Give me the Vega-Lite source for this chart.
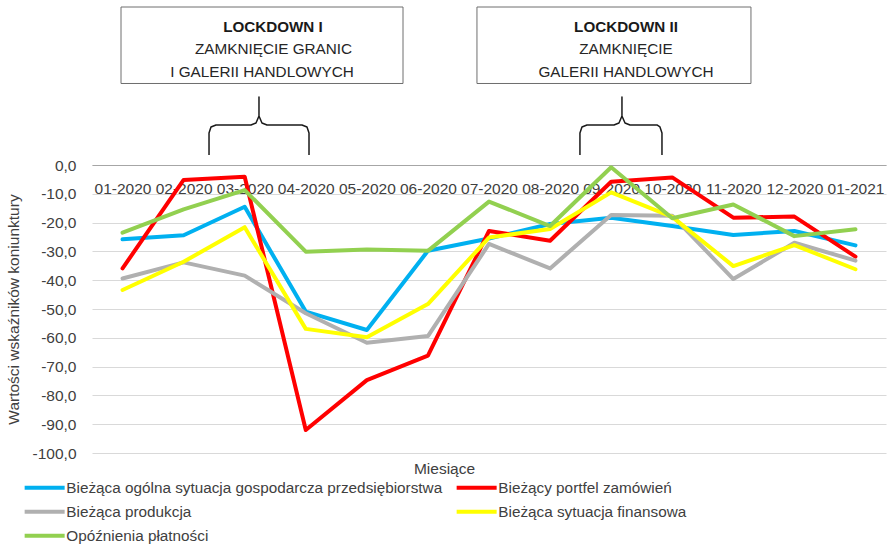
{
  "$schema": "https://vega.github.io/schema/vega-lite/v6.json",
  "width": 794,
  "height": 288,
  "autosize": {"type": "none"},
  "padding": {"left": 92, "top": 165, "right": 4, "bottom": 93},
  "config": {
    "locale": {"number": {"decimal": ",", "thousands": " ", "grouping": [3], "currency": ["", " zł"], "minus": "-"}},
    "font": "Liberation Sans",
    "view": {"stroke": null},
    "axisX": {
      "orient": "top",
      "labelFont": "Liberation Sans",
      "labelFontSize": 15.5,
      "labelColor": "#404040",
      "labelPadding": -23,
      "labelBaseline": "middle",
      "labelOverlap": false,
      "labelFlush": false,
      "labelBound": false,
      "ticks": false,
      "grid": false,
      "domainColor": "#a6a6a6",
      "domainWidth": 1,
      "titleFont": "Liberation Sans",
      "titleFontSize": 15.5,
      "titleFontWeight": "normal",
      "titleColor": "#404040",
      "titleX": 352,
      "titleY": 303,
      "titleBaseline": "middle"
    },
    "axisY": {
      "labelFont": "Liberation Sans",
      "labelFontSize": 15.5,
      "labelColor": "#404040",
      "labelPadding": 16,
      "labelOverlap": false,
      "labelFlush": false,
      "ticks": false,
      "domain": false,
      "grid": true,
      "gridColor": "#d9d9d9",
      "gridWidth": 1,
      "titleFont": "Liberation Sans",
      "titleFontSize": 15.5,
      "titleFontWeight": "normal",
      "titleColor": "#404040",
      "titlePadding": 11
    }
  },
  "datasets": {
    "series": [
      {"idx": 0, "month": "01-2020", "s": "Bieżąca ogólna sytuacja gospodarcza przedsiębiorstwa", "v": -25.8},
      {"idx": 1, "month": "02-2020", "s": "Bieżąca ogólna sytuacja gospodarcza przedsiębiorstwa", "v": -24.4},
      {"idx": 2, "month": "03-2020", "s": "Bieżąca ogólna sytuacja gospodarcza przedsiębiorstwa", "v": -14.5},
      {"idx": 3, "month": "04-2020", "s": "Bieżąca ogólna sytuacja gospodarcza przedsiębiorstwa", "v": -50.9},
      {"idx": 4, "month": "05-2020", "s": "Bieżąca ogólna sytuacja gospodarcza przedsiębiorstwa", "v": -57.3},
      {"idx": 5, "month": "06-2020", "s": "Bieżąca ogólna sytuacja gospodarcza przedsiębiorstwa", "v": -29.8},
      {"idx": 6, "month": "07-2020", "s": "Bieżąca ogólna sytuacja gospodarcza przedsiębiorstwa", "v": -25.5},
      {"idx": 7, "month": "08-2020", "s": "Bieżąca ogólna sytuacja gospodarcza przedsiębiorstwa", "v": -20.5},
      {"idx": 8, "month": "09-2020", "s": "Bieżąca ogólna sytuacja gospodarcza przedsiębiorstwa", "v": -18.3},
      {"idx": 9, "month": "10-2020", "s": "Bieżąca ogólna sytuacja gospodarcza przedsiębiorstwa", "v": -21.2},
      {"idx": 10, "month": "11-2020", "s": "Bieżąca ogólna sytuacja gospodarcza przedsiębiorstwa", "v": -24.3},
      {"idx": 11, "month": "12-2020", "s": "Bieżąca ogólna sytuacja gospodarcza przedsiębiorstwa", "v": -22.9},
      {"idx": 12, "month": "01-2021", "s": "Bieżąca ogólna sytuacja gospodarcza przedsiębiorstwa", "v": -27.9},
      {"idx": 0, "month": "01-2020", "s": "Bieżący portfel zamówień", "v": -35.9},
      {"idx": 1, "month": "02-2020", "s": "Bieżący portfel zamówień", "v": -5.2},
      {"idx": 2, "month": "03-2020", "s": "Bieżący portfel zamówień", "v": -4.1},
      {"idx": 3, "month": "04-2020", "s": "Bieżący portfel zamówień", "v": -92.0},
      {"idx": 4, "month": "05-2020", "s": "Bieżący portfel zamówień", "v": -74.7},
      {"idx": 5, "month": "06-2020", "s": "Bieżący portfel zamówień", "v": -66.2},
      {"idx": 6, "month": "07-2020", "s": "Bieżący portfel zamówień", "v": -22.9},
      {"idx": 7, "month": "08-2020", "s": "Bieżący portfel zamówień", "v": -26.3},
      {"idx": 8, "month": "09-2020", "s": "Bieżący portfel zamówień", "v": -5.8},
      {"idx": 9, "month": "10-2020", "s": "Bieżący portfel zamówień", "v": -4.3},
      {"idx": 10, "month": "11-2020", "s": "Bieżący portfel zamówień", "v": -18.3},
      {"idx": 11, "month": "12-2020", "s": "Bieżący portfel zamówień", "v": -17.9},
      {"idx": 12, "month": "01-2021", "s": "Bieżący portfel zamówień", "v": -31.8},
      {"idx": 0, "month": "01-2020", "s": "Bieżąca produkcja", "v": -39.4},
      {"idx": 1, "month": "02-2020", "s": "Bieżąca produkcja", "v": -33.8},
      {"idx": 2, "month": "03-2020", "s": "Bieżąca produkcja", "v": -38.4},
      {"idx": 3, "month": "04-2020", "s": "Bieżąca produkcja", "v": -51.5},
      {"idx": 4, "month": "05-2020", "s": "Bieżąca produkcja", "v": -61.7},
      {"idx": 5, "month": "06-2020", "s": "Bieżąca produkcja", "v": -59.4},
      {"idx": 6, "month": "07-2020", "s": "Bieżąca produkcja", "v": -27.4},
      {"idx": 7, "month": "08-2020", "s": "Bieżąca produkcja", "v": -35.9},
      {"idx": 8, "month": "09-2020", "s": "Bieżąca produkcja", "v": -17.4},
      {"idx": 9, "month": "10-2020", "s": "Bieżąca produkcja", "v": -17.6},
      {"idx": 10, "month": "11-2020", "s": "Bieżąca produkcja", "v": -39.6},
      {"idx": 11, "month": "12-2020", "s": "Bieżąca produkcja", "v": -27.0},
      {"idx": 12, "month": "01-2021", "s": "Bieżąca produkcja", "v": -33.2},
      {"idx": 0, "month": "01-2020", "s": "Bieżąca sytuacja finansowa", "v": -43.4},
      {"idx": 1, "month": "02-2020", "s": "Bieżąca sytuacja finansowa", "v": -33.6},
      {"idx": 2, "month": "03-2020", "s": "Bieżąca sytuacja finansowa", "v": -21.6},
      {"idx": 3, "month": "04-2020", "s": "Bieżąca sytuacja finansowa", "v": -56.9},
      {"idx": 4, "month": "05-2020", "s": "Bieżąca sytuacja finansowa", "v": -59.8},
      {"idx": 5, "month": "06-2020", "s": "Bieżąca sytuacja finansowa", "v": -48.3},
      {"idx": 6, "month": "07-2020", "s": "Bieżąca sytuacja finansowa", "v": -25.2},
      {"idx": 7, "month": "08-2020", "s": "Bieżąca sytuacja finansowa", "v": -22.2},
      {"idx": 8, "month": "09-2020", "s": "Bieżąca sytuacja finansowa", "v": -9.5},
      {"idx": 9, "month": "10-2020", "s": "Bieżąca sytuacja finansowa", "v": -18.0},
      {"idx": 10, "month": "11-2020", "s": "Bieżąca sytuacja finansowa", "v": -35.1},
      {"idx": 11, "month": "12-2020", "s": "Bieżąca sytuacja finansowa", "v": -27.8},
      {"idx": 12, "month": "01-2021", "s": "Bieżąca sytuacja finansowa", "v": -36.2},
      {"idx": 0, "month": "01-2020", "s": "Opóźnienia płatności", "v": -23.5},
      {"idx": 1, "month": "02-2020", "s": "Opóźnienia płatności", "v": -15.4},
      {"idx": 2, "month": "03-2020", "s": "Opóźnienia płatności", "v": -8.7},
      {"idx": 3, "month": "04-2020", "s": "Opóźnienia płatności", "v": -30.1},
      {"idx": 4, "month": "05-2020", "s": "Opóźnienia płatności", "v": -29.3},
      {"idx": 5, "month": "06-2020", "s": "Opóźnienia płatności", "v": -29.8},
      {"idx": 6, "month": "07-2020", "s": "Opóźnienia płatności", "v": -12.7},
      {"idx": 7, "month": "08-2020", "s": "Opóźnienia płatności", "v": -21.2},
      {"idx": 8, "month": "09-2020", "s": "Opóźnienia płatności", "v": -0.8},
      {"idx": 9, "month": "10-2020", "s": "Opóźnienia płatności", "v": -18.5},
      {"idx": 10, "month": "11-2020", "s": "Opóźnienia płatności", "v": -13.7},
      {"idx": 11, "month": "12-2020", "s": "Opóźnienia płatności", "v": -24.7},
      {"idx": 12, "month": "01-2021", "s": "Opóźnienia płatności", "v": -22.3}
    ],
    "boxes": [
      {"x1": -0.025, "x2": 4.592, "y1": 54.86, "y2": 28.3},
      {"x1": 5.803, "x2": 10.289, "y1": 54.86, "y2": 28.3}
    ],
    "notes": [
      {"x": 2.463, "y": 46.08, "t": "LOCKDOWN I", "b": 1},
      {"x": 2.472, "y": 38.54, "t": "ZAMKNIĘCIE GRANIC", "b": 0},
      {"x": 2.283, "y": 30.45, "t": "I GALERII HANDLOWYCH", "b": 0},
      {"x": 8.243, "y": 46.08, "t": "LOCKDOWN II", "b": 1},
      {"x": 8.243, "y": 38.54, "t": "ZAMKNIĘCIE", "b": 0},
      {"x": 8.243, "y": 30.45, "t": "GALERII HANDLOWYCH", "b": 0}
    ],
    "braces": [
      {"br": 1, "o": 1, "x": 1.416, "y": 3.47},
      {"br": 1, "o": 2, "x": 1.416, "y": 11.1},
      {"br": 1, "o": 3, "x": 1.448, "y": 13.2},
      {"br": 1, "o": 4, "x": 1.53, "y": 13.9},
      {"br": 1, "o": 5, "x": 2.103, "y": 13.9},
      {"br": 1, "o": 6, "x": 2.185, "y": 14.6},
      {"br": 1, "o": 7, "x": 2.234, "y": 17.0},
      {"br": 1, "o": 8, "x": 2.234, "y": 23.6},
      {"br": 1, "o": 9, "x": 2.234, "y": 17.0},
      {"br": 1, "o": 10, "x": 2.283, "y": 14.6},
      {"br": 1, "o": 11, "x": 2.365, "y": 13.9},
      {"br": 1, "o": 12, "x": 2.938, "y": 13.9},
      {"br": 1, "o": 13, "x": 3.02, "y": 13.2},
      {"br": 1, "o": 14, "x": 3.053, "y": 11.1},
      {"br": 1, "o": 15, "x": 3.053, "y": 3.47},
      {"br": 2, "o": 1, "x": 7.489, "y": 3.47},
      {"br": 2, "o": 2, "x": 7.489, "y": 11.1},
      {"br": 2, "o": 3, "x": 7.522, "y": 13.2},
      {"br": 2, "o": 4, "x": 7.604, "y": 13.9},
      {"br": 2, "o": 5, "x": 8.046, "y": 13.9},
      {"br": 2, "o": 6, "x": 8.128, "y": 14.6},
      {"br": 2, "o": 7, "x": 8.177, "y": 17.0},
      {"br": 2, "o": 8, "x": 8.177, "y": 23.6},
      {"br": 2, "o": 9, "x": 8.177, "y": 17.0},
      {"br": 2, "o": 10, "x": 8.227, "y": 14.6},
      {"br": 2, "o": 11, "x": 8.308, "y": 13.9},
      {"br": 2, "o": 12, "x": 8.75, "y": 13.9},
      {"br": 2, "o": 13, "x": 8.799, "y": 13.2},
      {"br": 2, "o": 14, "x": 8.832, "y": 11.1},
      {"br": 2, "o": 15, "x": 8.832, "y": 3.47}
    ]
  },
  "layer": [
    {
      "data": {"name": "series"},
      "mark": {"type": "line", "strokeWidth": 4, "strokeJoin": "round", "strokeCap": "round"},
      "encoding": {
        "x": {
          "field": "idx", "type": "quantitative",
          "scale": {"domain": [-0.5, 12.5], "nice": false, "zero": false},
          "axis": {
            "values": [0, 1, 2, 3, 4, 5, 6, 7, 8, 9, 10, 11, 12],
            "labelExpr": "['01-2020','02-2020','03-2020','04-2020','05-2020','06-2020','07-2020','08-2020','09-2020','10-2020','11-2020','12-2020','01-2021'][datum.value]",
            "title": "Miesiące"
          }
        },
        "y": {
          "field": "v", "type": "quantitative",
          "scale": {"domain": [-100, 0], "nice": false, "zero": false},
          "axis": {
            "values": [0, -10, -20, -30, -40, -50, -60, -70, -80, -90, -100],
            "format": ".1f",
            "title": "Wartości wskaźników koniunktury"
          }
        },
        "color": {
          "field": "s", "type": "nominal",
          "scale": {
            "domain": ["Bieżąca ogólna sytuacja gospodarcza przedsiębiorstwa", "Bieżący portfel zamówień", "Bieżąca produkcja", "Bieżąca sytuacja finansowa", "Opóźnienia płatności"],
            "range": ["#00b0f0", "#ff0000", "#b0b0b0", "#ffff00", "#92d050"]
          },
          "legend": {
            "orient": "none",
            "direction": "horizontal",
            "legendX": -68,
            "legendY": 315,
            "columns": 2,
            "title": null,
            "symbolType": "M-4,0H4",
            "symbolStrokeWidth": 4,
            "symbolSize": 100,
            "symbolOffset": 13,
            "labelFont": "Liberation Sans",
            "labelFontSize": 15.3,
            "labelColor": "#404040",
            "labelLimit": 1000,
            "labelOffset": 14,
            "columnPadding": 5,
            "rowPadding": 7,
            "padding": 0
          }
        }
      }
    },
    {
      "data": {"name": "boxes"},
      "mark": {"type": "rect", "fill": "#ffffff", "stroke": "#6e6e6e", "strokeWidth": 1},
      "encoding": {
        "x": {"field": "x1", "type": "quantitative", "scale": {"domain": [-0.5, 12.5], "nice": false, "zero": false},
          "axis": {
            "values": [0, 1, 2, 3, 4, 5, 6, 7, 8, 9, 10, 11, 12],
            "labelExpr": "['01-2020','02-2020','03-2020','04-2020','05-2020','06-2020','07-2020','08-2020','09-2020','10-2020','11-2020','12-2020','01-2021'][datum.value]",
            "title": "Miesiące"
          }},
        "x2": {"field": "x2"},
        "y": {"field": "y1", "type": "quantitative", "scale": {"domain": [-100, 0], "nice": false, "zero": false},
          "axis": {
            "values": [0, -10, -20, -30, -40, -50, -60, -70, -80, -90, -100],
            "format": ".1f",
            "title": "Wartości wskaźników koniunktury"
          }},
        "y2": {"field": "y2"}
      }
    },
    {
      "data": {"name": "notes"},
      "transform": [{"filter": "datum.b == 1"}],
      "mark": {"type": "text", "font": "Liberation Sans", "fontSize": 15.2, "fontWeight": "bold", "color": "#1a1a1a", "align": "center", "baseline": "alphabetic"},
      "encoding": {
        "x": {"field": "x", "type": "quantitative", "scale": {"domain": [-0.5, 12.5], "nice": false, "zero": false},
          "axis": {
            "values": [0, 1, 2, 3, 4, 5, 6, 7, 8, 9, 10, 11, 12],
            "labelExpr": "['01-2020','02-2020','03-2020','04-2020','05-2020','06-2020','07-2020','08-2020','09-2020','10-2020','11-2020','12-2020','01-2021'][datum.value]",
            "title": "Miesiące"
          }},
        "y": {"field": "y", "type": "quantitative", "scale": {"domain": [-100, 0], "nice": false, "zero": false},
          "axis": {
            "values": [0, -10, -20, -30, -40, -50, -60, -70, -80, -90, -100],
            "format": ".1f",
            "title": "Wartości wskaźników koniunktury"
          }},
        "text": {"field": "t"}
      }
    },
    {
      "data": {"name": "notes"},
      "transform": [{"filter": "datum.b == 0"}],
      "mark": {"type": "text", "font": "Liberation Sans", "fontSize": 15.3, "color": "#262626", "align": "center", "baseline": "alphabetic"},
      "encoding": {
        "x": {"field": "x", "type": "quantitative", "scale": {"domain": [-0.5, 12.5], "nice": false, "zero": false},
          "axis": {
            "values": [0, 1, 2, 3, 4, 5, 6, 7, 8, 9, 10, 11, 12],
            "labelExpr": "['01-2020','02-2020','03-2020','04-2020','05-2020','06-2020','07-2020','08-2020','09-2020','10-2020','11-2020','12-2020','01-2021'][datum.value]",
            "title": "Miesiące"
          }},
        "y": {"field": "y", "type": "quantitative", "scale": {"domain": [-100, 0], "nice": false, "zero": false},
          "axis": {
            "values": [0, -10, -20, -30, -40, -50, -60, -70, -80, -90, -100],
            "format": ".1f",
            "title": "Wartości wskaźników koniunktury"
          }},
        "text": {"field": "t"}
      }
    },
    {
      "data": {"name": "braces"},
      "mark": {"type": "line", "stroke": "#1a1a1a", "strokeWidth": 1.5, "strokeJoin": "round"},
      "encoding": {
        "x": {"field": "x", "type": "quantitative", "scale": {"domain": [-0.5, 12.5], "nice": false, "zero": false},
          "axis": {
            "values": [0, 1, 2, 3, 4, 5, 6, 7, 8, 9, 10, 11, 12],
            "labelExpr": "['01-2020','02-2020','03-2020','04-2020','05-2020','06-2020','07-2020','08-2020','09-2020','10-2020','11-2020','12-2020','01-2021'][datum.value]",
            "title": "Miesiące"
          }},
        "y": {"field": "y", "type": "quantitative", "scale": {"domain": [-100, 0], "nice": false, "zero": false},
          "axis": {
            "values": [0, -10, -20, -30, -40, -50, -60, -70, -80, -90, -100],
            "format": ".1f",
            "title": "Wartości wskaźników koniunktury"
          }},
        "detail": {"field": "br", "type": "nominal"},
        "order": {"field": "o", "type": "quantitative"}
      }
    }
  ]
}
